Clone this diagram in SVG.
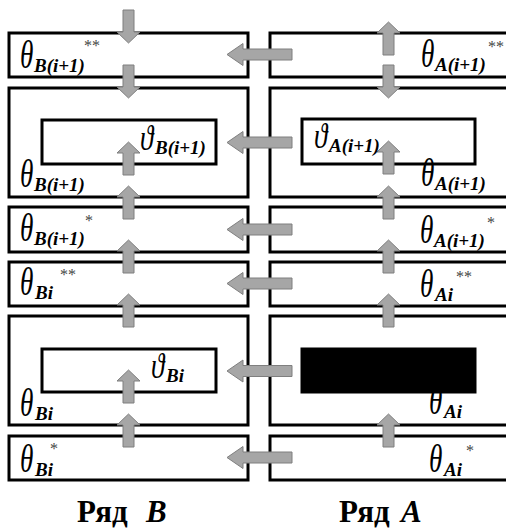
<svg xmlns="http://www.w3.org/2000/svg" xmlns:xlink="http://www.w3.org/1999/xlink" width="506" height="530" viewBox="0 0 506 530">
  <style>
    .box { fill: #ffffff; stroke: #000000; stroke-width: 3; }
    .inner { fill: none; stroke: #000000; stroke-width: 3; }
    .solid { fill: #000000; stroke: #000000; stroke-width: 3; }
    .arr { fill: #a6a6a6; stroke: #7f7f7f; stroke-width: 1; }
    .th { font-family: "Liberation Serif", "Times New Roman", serif; font-style: italic; font-size: 32px; fill: #000; }
    .sub { font-family: "Liberation Serif", "Times New Roman", serif; font-style: italic; font-weight: bold; font-size: 19px; fill: #000; }
    .st { font-family: "Liberation Serif", "Times New Roman", serif; font-size: 16px; fill: #444; }
    .cap { font-family: "Liberation Serif", "Times New Roman", serif; font-weight: bold; font-size: 31px; fill: #000; }
    .capi { font-style: italic; }
  </style>
  <defs>
    <!-- vertical block arrow, tip at origin, pointing up -->
    <path id="up" d="M0,0 L11.5,11 L5.5,11 L5.5,33 L-5.5,33 L-5.5,11 L-11.5,11 Z"/>
    <!-- horizontal block arrow, tip at origin, pointing left -->
    <path id="left" d="M0,0 L16,-11 L16,-5.5 L65,-5.5 L65,5.5 L16,5.5 L16,11 Z"/>
  </defs>

  <!-- Row B (left column) -->
  <g id="b1"><rect class="box" x="9" y="33" width="239" height="44"/></g>
  <g id="b2"><rect class="box" x="9" y="88" width="239" height="109"/><rect class="inner" x="42" y="120" width="174" height="44"/></g>
  <g id="b3"><rect class="box" x="9" y="207" width="239" height="45"/></g>
  <g id="b4"><rect class="box" x="9" y="262" width="239" height="44"/></g>
  <g id="b5"><rect class="box" x="9" y="316" width="239" height="109"/><rect class="inner" x="42" y="349" width="174" height="43"/></g>
  <g id="b6"><rect class="box" x="9" y="436" width="239" height="44"/></g>

  <!-- Row A (right column) -->
  <g id="a1"><rect class="box" x="270" y="33" width="250" height="44"/></g>
  <g id="a2"><rect class="box" x="270" y="88" width="250" height="109"/><rect class="inner" x="302" y="119" width="173" height="45"/></g>
  <g id="a3"><rect class="box" x="270" y="207" width="250" height="45"/></g>
  <g id="a4"><rect class="box" x="270" y="262" width="250" height="44"/></g>
  <g id="a5"><rect class="box" x="270" y="316" width="250" height="109"/><rect class="solid" x="302" y="349" width="173" height="43"/></g>
  <g id="a6"><rect class="box" x="270" y="436" width="250" height="44"/></g>

  <!-- connectors -->
  <g id="connectors">
    <!-- left column flow -->
    <use xlink:href="#up" class="arr" transform="translate(128.5,43) rotate(180)"/>
    <use xlink:href="#up" class="arr" transform="translate(128.5,98) rotate(180)"/>
    <use xlink:href="#up" class="arr" transform="translate(128.5,142)"/>
    <use xlink:href="#up" class="arr" transform="translate(128.5,186)"/>
    <use xlink:href="#up" class="arr" transform="translate(128.5,240)"/>
    <use xlink:href="#up" class="arr" transform="translate(128.5,294)"/>
    <use xlink:href="#up" class="arr" transform="translate(128.5,370)"/>
    <use xlink:href="#up" class="arr" transform="translate(128.5,414)"/>
    <!-- right column flow -->
    <use xlink:href="#up" class="arr" transform="translate(388.5,22)"/>
    <use xlink:href="#up" class="arr" transform="translate(388.5,98) rotate(180)"/>
    <use xlink:href="#up" class="arr" transform="translate(388.5,141)"/>
    <use xlink:href="#up" class="arr" transform="translate(388.5,186)"/>
    <use xlink:href="#up" class="arr" transform="translate(388.5,240)"/>
    <use xlink:href="#up" class="arr" transform="translate(388.5,294)"/>
    <use xlink:href="#up" class="arr" transform="translate(388.5,414)"/>
    <!-- transfer A -> B -->
    <use xlink:href="#left" class="arr" transform="translate(227,54.5)"/>
    <use xlink:href="#left" class="arr" transform="translate(227,142.5)"/>
    <use xlink:href="#left" class="arr" transform="translate(227,229.5)"/>
    <use xlink:href="#left" class="arr" transform="translate(227,283.5)"/>
    <use xlink:href="#left" class="arr" transform="translate(227,371)"/>
    <use xlink:href="#left" class="arr" transform="translate(227,457.5)"/>
  </g>

  <!-- labels, row B (θ glyphs drawn narrow and tall) -->
  <g id="labels-b">
    <text class="th" transform="translate(20,68) scale(0.85,1.25)">θ</text><text class="sub" x="34" y="72">B(i+1)</text><text class="st" x="84" y="51">**</text>
    <text class="th" transform="translate(140,150) scale(0.85,1.15)">ϑ</text><text class="sub" x="155" y="154">B(i+1)</text>
    <text class="th" transform="translate(20,187) scale(0.85,1.25)">θ</text><text class="sub" x="34" y="191">B(i+1)</text>
    <text class="th" transform="translate(20,241) scale(0.85,1.25)">θ</text><text class="sub" x="34" y="245">B(i+1)</text><text class="st" x="85" y="226">*</text>
    <text class="th" transform="translate(20,295) scale(0.85,1.25)">θ</text><text class="sub" x="35" y="299">Bi</text><text class="st" x="60" y="280">**</text>
    <text class="th" transform="translate(151,378) scale(0.85,1.15)">ϑ</text><text class="sub" x="166" y="382">Bi</text>
    <text class="th" transform="translate(20,416) scale(0.85,1.25)">θ</text><text class="sub" x="35" y="420">Bi</text>
    <text class="th" transform="translate(20,472) scale(0.85,1.25)">θ</text><text class="sub" x="35" y="476">Bi</text><text class="st" x="50" y="454">*</text>
  </g>

  <!-- labels, row A -->
  <g id="labels-a">
    <text class="th" transform="translate(421,67) scale(0.85,1.25)">θ</text><text class="sub" x="435" y="71">A(i+1)</text><text class="st" x="488" y="52">**</text>
    <text class="th" transform="translate(314,148) scale(0.85,1.15)">ϑ</text><text class="sub" x="329" y="152">A(i+1)</text>
    <text class="th" transform="translate(421,186) scale(0.85,1.25)">θ</text><text class="sub" x="435" y="190">A(i+1)</text>
    <text class="th" transform="translate(420,243) scale(0.85,1.25)">θ</text><text class="sub" x="434" y="247">A(i+1)</text><text class="st" x="487" y="228">*</text>
    <text class="th" transform="translate(420,297) scale(0.85,1.25)">θ</text><text class="sub" x="435" y="301">Ai</text><text class="st" x="456" y="282">**</text>
    <text class="th" transform="translate(429,414) scale(0.85,1.25)">θ</text><text class="sub" x="444" y="418">Ai</text>
    <text class="th" transform="translate(429,472) scale(0.85,1.25)">θ</text><text class="sub" x="444" y="476">Ai</text><text class="st" x="466" y="456">*</text>
  </g>

  <!-- column captions -->
  <g id="captions">
    <text class="cap" x="77" y="522">Ряд</text><text class="cap capi" x="146" y="522">B</text>
    <text class="cap" x="339" y="522">Ряд</text><text class="cap capi" x="401" y="522">A</text>
  </g>
</svg>
